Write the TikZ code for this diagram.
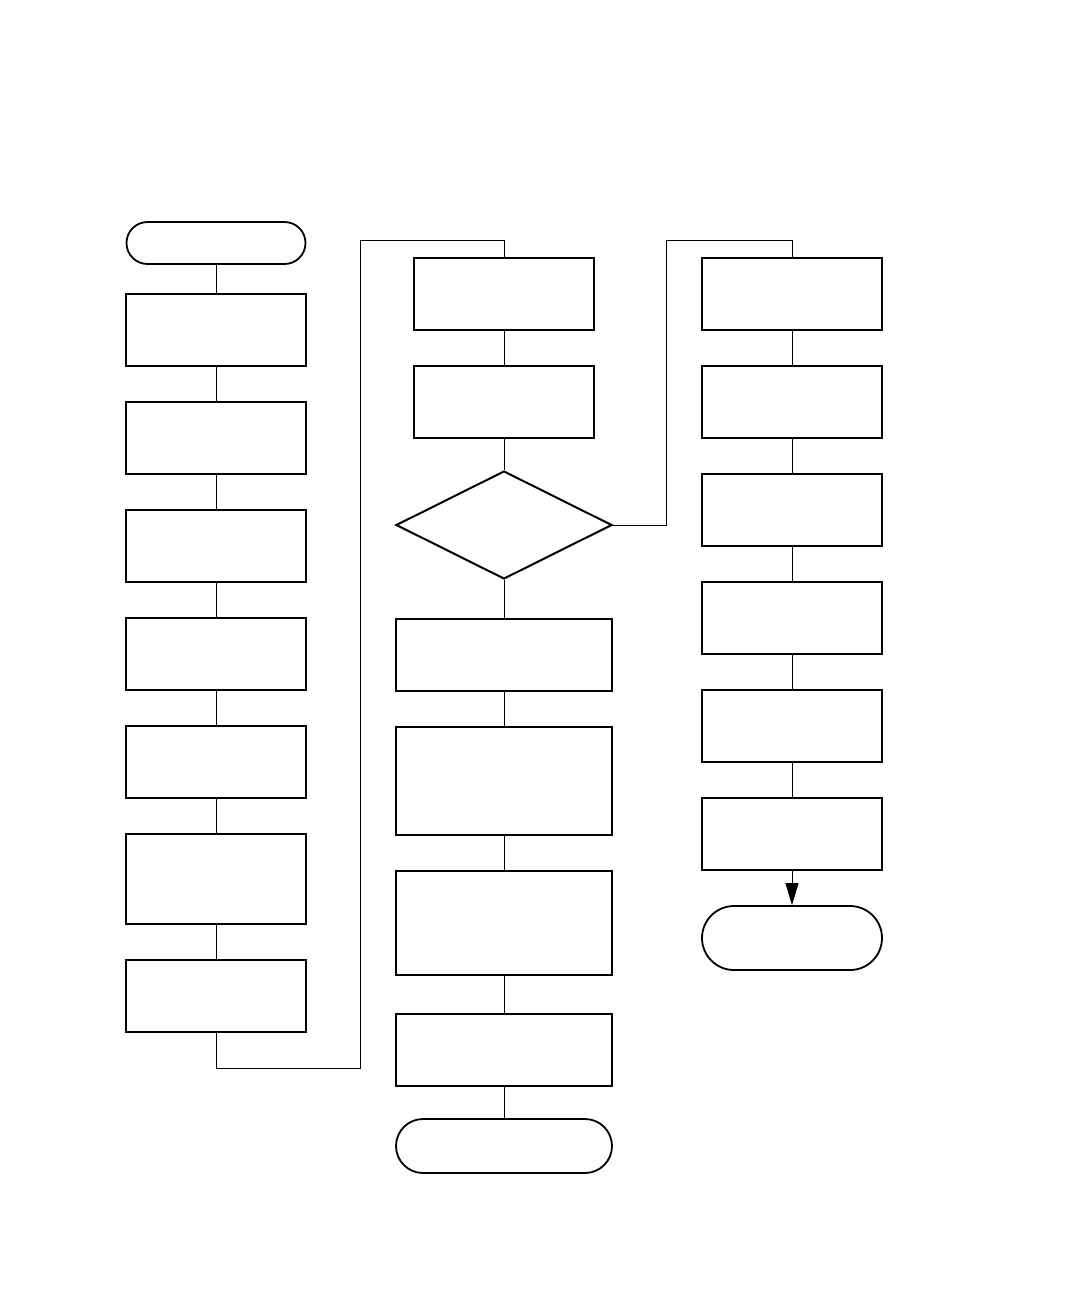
\documentclass[tikz,border=0pt]{standalone}
\usetikzlibrary{shapes.geometric,arrows.meta}
\begin{document}
\begin{tikzpicture}[x=1pt,y=-1pt,
  boxnode/.style={draw,line width=2pt,rectangle,inner sep=0pt,minimum width=#1},
  boxnode/.default=180pt,
  termnode/.style={draw,line width=1.8pt,rectangle,inner sep=0pt},
  decnode/.style={draw,line width=2pt,diamond,inner sep=0pt,minimum width=216pt,minimum height=108pt},
  conn/.style={line width=1pt}]
\fill[white] (0,0) rectangle (1080,1296);
\useasboundingbox (0,0) rectangle (1080,1296);
% column 1
\node[termnode,minimum width=179pt,minimum height=42pt,rounded corners=21pt] (s) at (216,243) {};
\node[boxnode,minimum height=72pt] (a1) at (216,330) {};
\node[boxnode,minimum height=72pt] (a2) at (216,438) {};
\node[boxnode,minimum height=72pt] (a3) at (216,546) {};
\node[boxnode,minimum height=72pt] (a4) at (216,654) {};
\node[boxnode,minimum height=72pt] (a5) at (216,762) {};
\node[boxnode,minimum height=90pt] (a6) at (216,879) {};
\node[boxnode,minimum height=72pt] (a7) at (216,996) {};
% column 2
\node[boxnode,minimum height=72pt] (b1) at (504,294) {};
\node[boxnode,minimum height=72pt] (b2) at (504,402) {};
\node[decnode] (d) at (504,525) {};
\node[boxnode=216pt,minimum height=72pt] (b3) at (504,655) {};
\node[boxnode=216pt,minimum height=108pt] (b4) at (504,781) {};
\node[boxnode=216pt,minimum height=104pt] (b5) at (504,923) {};
\node[boxnode=216pt,minimum height=72pt] (b6) at (504,1050) {};
\node[termnode,minimum width=216pt,minimum height=54pt,rounded corners=27pt] (e2) at (504,1146) {};
% column 3
\node[boxnode,minimum height=72pt] (c1) at (792,294) {};
\node[boxnode,minimum height=72pt] (c2) at (792,402) {};
\node[boxnode,minimum height=72pt] (c3) at (792,510) {};
\node[boxnode,minimum height=72pt] (c4) at (792,618) {};
\node[boxnode,minimum height=72pt] (c5) at (792,726) {};
\node[boxnode,minimum height=72pt] (c6) at (792,834) {};
\node[termnode,minimum width=180pt,minimum height=64pt,rounded corners=32pt] (e3) at (792,938) {};
% connector corners
\coordinate (p1) at (360,1068);
\coordinate (p2) at (360,240);
\coordinate (q1) at (666,240);
% connectors
\draw[conn] (s) -- (a1);
\draw[conn] (a1) -- (a2);
\draw[conn] (a2) -- (a3);
\draw[conn] (a3) -- (a4);
\draw[conn] (a4) -- (a5);
\draw[conn] (a5) -- (a6);
\draw[conn] (a6) -- (a7);
\draw[conn] (a7.south) |- (p1) -- (p2) -| (b1.north);
\draw[conn] (b1) -- (b2);
\draw[conn] (b2) -- (d);
\draw[conn] (d) -- (b3);
\draw[conn] (b3) -- (b4);
\draw[conn] (b4) -- (b5);
\draw[conn] (b5) -- (b6);
\draw[conn] (b6) -- (e2);
\draw[conn] (d.east) -| (q1) -| (c1.north);
\draw[conn] (c1) -- (c2);
\draw[conn] (c2) -- (c3);
\draw[conn] (c3) -- (c4);
\draw[conn] (c4) -- (c5);
\draw[conn] (c5) -- (c6);
\draw[conn,-{Triangle[length=22pt,width=13pt]}] (c6) -- (e3);
\end{tikzpicture}
\end{document}
